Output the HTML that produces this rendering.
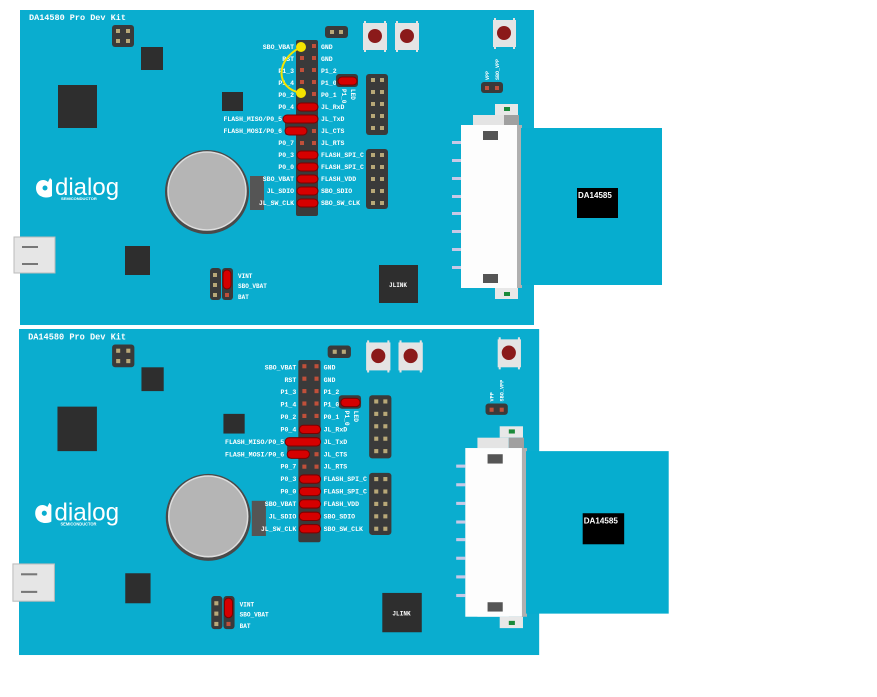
<!DOCTYPE html>
<html><head><meta charset="utf-8"><style>
html,body{margin:0;padding:0;background:#fff;width:877px;height:697px;overflow:hidden}
svg{position:absolute;left:0;top:0}
text{font-family:"Liberation Mono",monospace;font-weight:bold;fill:#fff}
</style></head><body>
<svg width="877" height="697" viewBox="0 0 877 697" xmlns="http://www.w3.org/2000/svg" id="s">
<g id="b1" transform="translate(20,10)">
<rect x="0" y="0" width="514" height="315" fill="#0aadcf"/>
<text x="9" y="10" font-size="8.5">DA14580 Pro Dev Kit</text>
<rect x="92" y="15" width="22" height="22" rx="3" fill="#3a3a3a"/>
<rect x="96" y="19" width="4" height="4" fill="#b8a878"/><rect x="106" y="19" width="4" height="4" fill="#b8a878"/>
<rect x="96" y="29" width="4" height="4" fill="#b8a878"/><rect x="106" y="29" width="4" height="4" fill="#b8a878"/>
<rect x="121" y="37" width="22" height="23" fill="#2e2e2e"/>
<rect x="38" y="75" width="39" height="43" fill="#2e2e2e"/>
<rect x="202" y="82" width="21" height="19" fill="#2e2e2e"/>
<path d="M16,178 C16,170 24,168 28,172 L30,168 L32,170 L32,186 C28,189 16,188 16,178 Z" fill="#fff"/>
<circle cx="25" cy="178" r="2.5" fill="#0aadcf"/>
<text x="35" y="185" font-size="24" style="font-family:'Liberation Sans',sans-serif;font-weight:normal">dialog</text>
<text x="41" y="190" font-size="4" style="font-family:'Liberation Sans',sans-serif">SEMICONDUCTOR</text>
<rect x="-6" y="227" width="41" height="36" fill="#e6e6e6" stroke="#bbb"/>
<rect x="2" y="236" width="16" height="2" fill="#777"/><rect x="2" y="253" width="16" height="2" fill="#777"/>
<rect x="105" y="236" width="25" height="29" fill="#2e2e2e"/>
<rect x="230" y="166" width="14" height="34" fill="#555"/>
<circle cx="187" cy="182" r="42" fill="#4a4a4a"/>
<circle cx="187" cy="181" r="39" fill="#b5b5b5" stroke="#ddd" stroke-width="1.5"/>
<rect x="305" y="16" width="23" height="12" rx="3" fill="#3a3a3a"/>
<rect x="310" y="20" width="4" height="4" fill="#b8a878"/><rect x="319" y="20" width="4" height="4" fill="#b8a878"/>
<g fill="#e4e4e4">
<rect x="344" y="11" width="2" height="3"/><rect x="364" y="11" width="2" height="3"/><rect x="344" y="39" width="2" height="3"/><rect x="364" y="39" width="2" height="3"/>
<rect x="376" y="11" width="2" height="3"/><rect x="396" y="11" width="2" height="3"/><rect x="376" y="39" width="2" height="3"/><rect x="396" y="39" width="2" height="3"/>
<rect x="474" y="8" width="2" height="3"/><rect x="493" y="8" width="2" height="3"/><rect x="474" y="36" width="2" height="3"/><rect x="493" y="36" width="2" height="3"/>
</g>
<rect x="343" y="13" width="24" height="27" fill="#e4e4e4"/><circle cx="355" cy="26" r="7" fill="#8b1a1a"/>
<rect x="375" y="13" width="24" height="27" fill="#e4e4e4"/><circle cx="387" cy="26" r="7" fill="#8b1a1a"/>
<rect x="473" y="10" width="23" height="27" fill="#e4e4e4"/><circle cx="484" cy="23" r="7" fill="#8b1a1a"/>
<rect x="461" y="72" width="22" height="11" rx="3" fill="#3a3a3a"/>
<rect x="465" y="76" width="4" height="4" fill="#c0503a"/><rect x="475" y="76" width="4" height="4" fill="#c0503a"/>
<text font-size="5" transform="translate(469,70) rotate(-90)">VPP</text>
<text font-size="5" transform="translate(479,70) rotate(-90)">SBO_VPP</text>
<rect x="276" y="30" width="22" height="176" rx="2" fill="#3a3a3a"/>
<rect x="265" y="105" width="12" height="20" rx="2" fill="#3a3a3a"/>
<g fill="#c0503a">
<rect x="280" y="34" width="4" height="4"/><rect x="292" y="34" width="4" height="4"/>
<rect x="280" y="46" width="4" height="4"/><rect x="292" y="46" width="4" height="4"/>
<rect x="280" y="58" width="4" height="4"/><rect x="292" y="58" width="4" height="4"/>
<rect x="280" y="70" width="4" height="4"/><rect x="292" y="70" width="4" height="4"/>
<rect x="280" y="82" width="4" height="4"/><rect x="292" y="82" width="4" height="4"/>
<rect x="292" y="119" width="4" height="4"/>
<rect x="280" y="131" width="4" height="4"/><rect x="292" y="131" width="4" height="4"/>
</g>
<g fill="#d60000" stroke="#7a0000" stroke-width="1">
<rect x="277" y="93" width="21" height="8" rx="4"/>
<rect x="263" y="105" width="35" height="8" rx="4"/>
<rect x="265" y="117" width="22" height="8" rx="4"/>
<rect x="277" y="141" width="21" height="8" rx="4"/>
<rect x="277" y="153" width="21" height="8" rx="4"/>
<rect x="277" y="165" width="21" height="8" rx="4"/>
<rect x="277" y="177" width="21" height="8" rx="4"/>
<rect x="277" y="189" width="21" height="8" rx="4"/>
</g>
<g font-size="6.5" text-anchor="end">
<text x="274" y="39">SBO_VBAT</text><text x="274" y="51">RST</text><text x="274" y="63">P1_3</text>
<text x="274" y="75">P1_4</text><text x="274" y="87">P0_2</text><text x="274" y="99">P0_4</text>
<text x="262" y="111">FLASH_MISO/P0_5</text><text x="262" y="123">FLASH_MOSI/P0_6</text>
<text x="274" y="135">P0_7</text><text x="274" y="147">P0_3</text><text x="274" y="159">P0_0</text>
<text x="274" y="171">SBO_VBAT</text><text x="274" y="183">JL_SDIO</text><text x="274" y="195">JL_SW_CLK</text>
</g>
<g font-size="6.5">
<text x="301" y="39">GND</text><text x="301" y="51">GND</text><text x="301" y="63">P1_2</text>
<text x="301" y="75">P1_0</text><text x="301" y="87">P0_1</text><text x="301" y="99">JL_RxD</text>
<text x="301" y="111">JL_TxD</text><text x="301" y="123">JL_CTS</text><text x="301" y="135">JL_RTS</text>
<text x="301" y="147">FLASH_SPI_C</text><text x="301" y="159">FLASH_SPI_C</text><text x="301" y="171">FLASH_VDD</text>
<text x="301" y="183">SBO_SDIO</text><text x="301" y="195">SBO_SW_CLK</text>
</g>
<rect x="316" y="64" width="22" height="13" rx="3" fill="#3a3a3a"/>
<rect x="318" y="67" width="19" height="8" rx="4" fill="#d60000" stroke="#7a0000"/>
<text font-size="6" transform="translate(322,79) rotate(90)">P1_0</text>
<text font-size="6" transform="translate(331,79) rotate(90)">LED</text>
<g fill="#3a3a3a"><rect x="346" y="64" width="22" height="61" rx="3"/><rect x="346" y="139" width="22" height="60" rx="3"/></g>
<g fill="#b8a878">
<rect x="351" y="68" width="4" height="4"/><rect x="360" y="68" width="4" height="4"/>
<rect x="351" y="80" width="4" height="4"/><rect x="360" y="80" width="4" height="4"/>
<rect x="351" y="92" width="4" height="4"/><rect x="360" y="92" width="4" height="4"/>
<rect x="351" y="104" width="4" height="4"/><rect x="360" y="104" width="4" height="4"/>
<rect x="351" y="116" width="4" height="4"/><rect x="360" y="116" width="4" height="4"/>
<rect x="351" y="143" width="4" height="4"/><rect x="360" y="143" width="4" height="4"/>
<rect x="351" y="155" width="4" height="4"/><rect x="360" y="155" width="4" height="4"/>
<rect x="351" y="167" width="4" height="4"/><rect x="360" y="167" width="4" height="4"/>
<rect x="351" y="179" width="4" height="4"/><rect x="360" y="179" width="4" height="4"/>
<rect x="351" y="191" width="4" height="4"/><rect x="360" y="191" width="4" height="4"/>
</g>
<rect x="190" y="258" width="11" height="32" rx="3" fill="#3a3a3a"/><rect x="202" y="258" width="11" height="32" rx="3" fill="#3a3a3a"/>
<g fill="#b8a878"><rect x="193" y="263" width="4" height="4"/><rect x="193" y="273" width="4" height="4"/><rect x="193" y="283" width="4" height="4"/></g>
<rect x="205" y="283" width="4" height="4" fill="#c0503a"/>
<rect x="203" y="260" width="8" height="19" rx="4" fill="#d60000" stroke="#7a0000"/>
<g font-size="6"><text x="218" y="268">VINT</text><text x="218" y="278">SBO_VBAT</text><text x="218" y="289">BAT</text></g>
<rect x="359" y="255" width="39" height="38" fill="#2e2e2e"/>
<text x="369" y="277" font-size="6">JLINK</text>
<g fill="#c8c8e6">
<rect x="432" y="131" width="9" height="3"/><rect x="432" y="149" width="9" height="3"/><rect x="432" y="167" width="9" height="3"/>
<rect x="432" y="185" width="9" height="3"/><rect x="432" y="202" width="9" height="3"/><rect x="432" y="220" width="9" height="3"/>
<rect x="432" y="238" width="9" height="3"/><rect x="432" y="256" width="9" height="3"/>
</g>
<rect x="475" y="94" width="23" height="11" fill="#e8e8e8"/><rect x="484" y="97" width="6" height="4" fill="#1a8a3a"/>
<rect x="475" y="278" width="23" height="11" fill="#e8e8e8"/><rect x="484" y="282" width="6" height="4" fill="#1a8a3a"/>
<rect x="453" y="105" width="31" height="10" fill="#e4e4e4"/><rect x="484" y="105" width="15" height="10" fill="#a0a0a0"/>
<rect x="453" y="268" width="31" height="10" fill="#e4e4e4"/><rect x="484" y="268" width="15" height="10" fill="#a0a0a0"/>
<rect x="441" y="115" width="56" height="163" fill="#fdfdfd"/>
<rect x="497" y="115" width="5" height="163" fill="#b0b0b0"/>
<rect x="463" y="121" width="15" height="9" fill="#555"/><rect x="463" y="264" width="15" height="9" fill="#555"/>
<rect x="501" y="118" width="141" height="157" fill="#06adcf"/>
<rect x="557" y="178" width="41" height="30" fill="#000"/>
<text x="558" y="188" font-size="8" style="font-family:'Liberation Sans',sans-serif">DA14585</text>
<g id="wire">
<path d="M281,37 C255,50 255,78 281,83" fill="none" stroke="#f5e400" stroke-width="2"/>
<circle cx="281" cy="37" r="5" fill="#f5e400"/><circle cx="281" cy="83" r="5" fill="#f5e400"/>
</g>
</g>
</svg>
<script>
var s=document.getElementById('s'),b=document.getElementById('b1');
var g=b.cloneNode(true);g.id='b2';
g.setAttribute('transform','translate(19,329) scale(1.012,1.035)');
var w=g.querySelector('#wire');if(w)w.parentNode.removeChild(w);
s.appendChild(g);
</script>
</body></html>
